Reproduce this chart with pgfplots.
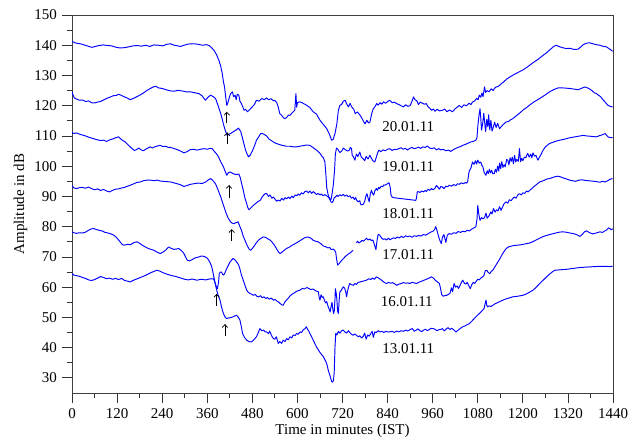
\documentclass[border=0pt]{standalone}
\usepackage{fontspec}
\setmainfont{Liberation Serif}
\usepackage{pgfplots}
\pgfplotsset{compat=1.18}
\usetikzlibrary{arrows.meta}

\begin{document}
\fontsize{15bp}{18bp}\selectfont
\begin{tikzpicture}
\useasboundingbox (-72bp,-48bp) rectangle (564bp,393bp);
\begin{axis}[
  scale only axis, width=541bp, height=378bp,
  xmin=0, xmax=1440, ymin=25, ymax=150,
  xtick={0,120,...,1440}, ytick={30,40,...,150},
  minor x tick num=1, minor y tick num=1,
  tick align=outside, xtick pos=bottom, ytick pos=left,
  major tick length=10bp, minor tick length=5bp,
  axis line style={black!75, line width=0.9bp},
  every tick/.append style={black!80, line width=0.8bp},
  /pgf/number format/assume math mode=true,
  /pgf/number format/1000 sep={},
  xlabel={Time in minutes (IST)}, ylabel={Amplitude in dB},
  xlabel style={at={(axis description cs:0.5,-0.1)}, anchor=center},
  ylabel style={at={(axis description cs:-0.095,0.5)}, anchor=center},
  unbounded coords=jump,
  trace/.style={blue, line width=0.95bp, line join=round, mark=none},
]
% 20.01.11
\addplot[trace] coordinates {(0,141.3) (8,140.8) (16,140.6) (25,140.4) (35,140.0) (45,139.6) (53,139.3) (62,139.6) (72,139.9) (84,140.1) (95,139.9) (105,139.8) (118,139.3) (128,139.1) (140,139.2) (152,139.5) (163,139.8) (173,139.9) (185,139.7) (196,140.0) (207,139.6) (218,140.1) (230,140.0) (242,139.8) (252,140.3) (262,140.5) (272,140.0) (281,139.8) (289,139.6) (298,140.0) (310,140.4) (324,140.5) (336,140.3) (348,140.0) (358,140.2) (366,139.8) (373,139.0) (378,138.3) (385,136.8) (391,135.0) (396,133.0) (400,130.6) (403,128.0) (406,126.2) (409,123.0) (412,120.1) (415,121.0) (418,122.4) (422,124.0) (427,124.6) (430,123.0) (434,123.5) (437,122.0) (440,123.8) (444,123.5) (447,121.5) (451,120.7) (455,119.5) (458,118.5) (462,118.8) (467,118.0) (472,118.6) (478,119.4) (485,120.3) (491,121.8) (498,121.5) (505,122.4) (512,122.0) (518,122.6) (523,122.0) (530,122.3) (536,121.6) (540,121.8) (545,121.0) (549,119.5) (553,117.4) (558,116.8) (563,116.0) (567,115.7) (572,116.2) (576,116.9) (580,116.8) (585,117.5) (589,118.0) (593,118.5) (596,124.0) (598,119.5) (600,121.0) (606,121.3) (612,121.0) (618,120.6) (624,120.2) (633,119.4) (642,118.0) (651,117.2) (660,115.2) (669,113.8) (678,112.4) (685,110.6) (691,108.6) (695,108.8) (700,110.8) (705,114.0) (709,118.5) (713,120.1) (718,120.5) (722,121.5) (727,121.8) (731,120.6) (736,119.6) (740,120.8) (745,119.5) (750,118.8) (754,117.4) (760,117.9) (767,116.8) (772,115.8) (776,114.8) (780,114.0) (785,115.2) (789,114.3) (793,114.6) (798,117.5) (802,119.0) (806,119.6) (811,120.7) (815,120.2) (820,121.0) (825,120.5) (829,121.3) (835,120.8) (840,121.4) (846,121.8) (852,121.0) (858,121.2) (864,120.7) (870,120.4) (876,120.0) (882,119.6) (888,120.3) (894,119.8) (900,120.0) (905,121.5) (909,122.9) (913,122.0) (918,121.6) (922,120.4) (927,121.2) (933,120.8) (938,120.5) (943,120.7) (948,119.6) (952,119.2) (957,118.5) (962,118.9) (966,118.2) (972,118.8) (978,118.3) (986,118.5) (992,118.9) (998,118.0) (1005,118.6) (1013,118.0) (1020,119.0) (1026,119.6) (1031,120.1) (1037,119.4) (1043,120.3) (1050,120.0) (1057,120.8) (1062,120.4) (1066,121.2) (1072,121.6) (1077,122.4) (1081,122.0) (1084,123.5) (1088,122.8) (1091,124.2) (1094,123.0) (1098,126.2) (1101,124.4) (1105,125.0) (1110,124.6) (1116,125.6) (1121,125.0) (1125,125.8) (1129,126.2) (1135,126.4) (1142,127.2) (1150,128.0) (1157,128.8) (1164,129.4) (1175,130.2) (1187,131.0) (1200,131.8) (1212,132.8) (1227,134.2) (1240,135.3) (1252,136.5) (1263,137.5) (1273,138.6) (1282,139.6) (1289,140.0) (1296,139.6) (1305,139.2) (1316,138.9) (1326,139.0) (1336,138.6) (1347,138.7) (1354,139.4) (1361,140.2) (1370,140.7) (1378,140.8) (1386,140.5) (1395,140.2) (1405,140.0) (1415,139.6) (1422,139.5) (1428,139.0) (1434,138.5) (1439,138.0)};
% 19.01.11
\addplot[trace] coordinates {(0,124.6) (3,123.5) (6,122.6) (12,122.2) (20,121.8) (28,121.9) (36,121.4) (44,121.6) (52,121.0) (60,120.9) (68,121.2) (76,121.4) (84,121.9) (92,122.4) (102,122.9) (110,123.3) (118,123.4) (124,123.8) (130,123.5) (138,123.0) (146,122.6) (155,122.0) (163,122.4) (173,123.0) (182,123.6) (190,124.2) (200,125.1) (210,125.8) (218,126.3) (224,126.4) (230,125.9) (240,125.7) (250,125.3) (262,124.9) (272,124.8) (282,125.1) (292,124.9) (304,124.6) (315,124.6) (326,124.3) (338,124.0) (346,123.3) (355,121.8) (362,122.8) (369,123.5) (376,123.0) (382,122.4) (389,120.0) (396,117.4) (400,115.5) (404,113.5) (408,111.8) (413,110.2) (418,110.6) (422,110.8) (428,111.3) (436,111.9) (443,112.6) (449,111.5) (453,109.7) (458,107.2) (462,105.3) (466,104.0) (470,103.1) (474,103.6) (480,105.0) (486,106.8) (491,108.6) (497,109.7) (502,110.8) (507,110.8) (513,110.4) (518,110.0) (524,109.0) (530,108.5) (536,108.0) (542,107.6) (549,107.3) (556,107.0) (563,106.8) (571,106.6) (580,106.6) (590,106.4) (598,106.4) (606,106.6) (615,106.8) (624,107.0) (633,106.9) (641,106.2) (651,105.3) (659,104.4) (666,103.2) (669,102.8) (673,101.5) (676,97.0) (678,93.0) (681,91.0) (684,89.5) (687,88.8) (690,89.2) (693,91.5) (696,94.3) (699,99.0) (701,104.0) (704,106.0) (708,105.5) (713,104.5) (718,105.0) (722,106.0) (727,105.5) (733,105.0) (738,105.3) (741,106.2) (744,105.8) (746,103.5) (749,103.2) (753,102.0) (757,104.0) (761,103.2) (766,104.7) (770,103.0) (775,102.5) (779,101.8) (783,103.2) (788,102.4) (793,103.6) (797,102.6) (801,101.8) (806,101.4) (810,103.0) (814,104.6) (817,105.3) (822,104.8) (828,105.4) (834,105.1) (840,105.6) (846,105.8) (852,105.2) (858,105.6) (864,105.5) (870,105.8) (876,106.1) (881,105.6) (887,105.9) (893,105.4) (899,105.9) (905,106.2) (911,105.8) (917,106.0) (922,106.3) (928,105.9) (934,106.4) (940,106.2) (946,106.7) (952,106.0) (958,105.8) (964,106.1) (970,105.4) (976,105.8) (982,105.4) (988,105.6) (995,105.1) (1002,105.3) (1008,104.9) (1013,105.3) (1020,105.8) (1027,106.2) (1034,106.5) (1040,106.9) (1047,107.2) (1054,107.6) (1061,108.0) (1068,108.2) (1075,108.6) (1078,109.5) (1080,113.0) (1083,116.5) (1086,119.0) (1088,116.0) (1090,111.9) (1093,114.0) (1096,117.5) (1098,115.0) (1101,111.5) (1104,115.5) (1107,113.0) (1109,117.0) (1112,112.0) (1115,115.2) (1118,111.6) (1120,112.3) (1125,114.5) (1129,112.8) (1133,114.2) (1138,112.4) (1142,113.0) (1148,113.8) (1155,114.6) (1162,114.8) (1168,115.4) (1173,115.7) (1182,116.6) (1191,117.5) (1200,118.5) (1210,119.4) (1220,120.4) (1230,121.3) (1240,122.0) (1250,122.8) (1260,123.6) (1271,124.6) (1282,125.3) (1294,125.9) (1305,125.9) (1316,125.8) (1325,125.7) (1336,125.5) (1347,125.3) (1355,125.7) (1365,126.2) (1374,125.8) (1383,125.1) (1390,124.3) (1396,124.0) (1401,123.5) (1407,123.0) (1413,122.0) (1419,121.2) (1426,120.2) (1432,119.8) (1439,119.6)};
% 18.01.11
\addplot[trace] coordinates {(0,111.2) (5,110.8) (12,111.0) (20,110.6) (28,110.3) (36,110.0) (44,109.6) (52,109.3) (60,109.0) (68,108.7) (76,108.5) (84,108.6) (92,108.2) (100,108.7) (108,109.0) (116,109.4) (124,109.7) (130,109.0) (136,108.4) (142,108.0) (148,107.2) (154,106.5) (160,105.8) (166,105.2) (172,105.5) (178,106.0) (184,105.4) (190,105.1) (196,105.6) (202,106.0) (208,106.4) (214,106.0) (220,106.4) (228,106.7) (235,106.9) (242,106.5) (250,106.6) (256,106.2) (262,106.2) (270,105.9) (280,105.5) (289,105.0) (298,104.4) (306,104.8) (315,105.5) (324,105.6) (333,105.3) (342,105.6) (352,105.8) (360,105.6) (368,105.9) (373,105.8) (378,105.0) (384,104.2) (390,103.1) (396,101.4) (403,99.8) (408,98.2) (412,97.0) (416,97.8) (421,98.1) (428,97.6) (434,97.3) (439,97.3) (444,97.4) (448,96.2) (452,94.0) (456,92.0) (460,89.6) (465,87.6) (468,86.3) (471,85.6) (476,86.2) (483,87.1) (490,87.8) (496,88.4) (501,88.7) (506,89.8) (510,90.4) (514,90.9) (518,91.0) (523,90.0) (527,90.5) (532,89.4) (536,89.8) (541,89.0) (545,88.4) (549,88.8) (554,88.5) (558,89.4) (563,88.8) (567,89.6) (571,89.2) (576,89.8) (580,89.3) (585,90.1) (589,89.6) (594,90.5) (598,90.2) (602,90.8) (606,90.4) (611,91.2) (615,90.8) (620,91.6) (624,91.8) (629,91.2) (633,91.8) (638,91.0) (642,91.6) (646,91.2) (651,90.6) (655,91.0) (660,90.5) (664,90.8) (668,90.2) (673,90.6) (678,90.2) (682,89.8) (686,89.6) (689,88.2) (692,88.0) (695,88.4) (698,89.6) (701,89.8) (705,90.4) (708,90.0) (713,90.6) (717,90.2) (722,90.7) (726,90.1) (731,90.5) (735,89.9) (740,90.2) (744,89.4) (748,89.8) (752,89.0) (755,89.6) (758,88.7) (762,88.2) (766,88.6) (768,87.5) (771,87.2) (775,87.4) (779,88.3) (782,90.0) (785,90.9) (788,89.5) (791,88.2) (794,90.8) (797,92.0) (800,91.0) (803,90.4) (806,91.8) (810,92.6) (813,92.0) (816,93.0) (819,92.6) (823,93.4) (827,93.2) (830,93.8) (833,93.7) (837,94.0) (841,94.3) (844,94.5) (847,93.0) (849,90.5) (852,89.8) (856,89.6) (862,89.5) (868,89.4) (875,89.3) (882,89.2) (888,89.1) (895,89.0) (902,88.9) (909,88.8) (915,88.7) (917,89.5) (919,91.5) (922,91.6) (926,91.3) (931,91.8) (936,91.5) (940,92.0) (943,91.6) (948,92.4) (952,92.0) (957,92.6) (961,92.2) (966,92.7) (970,93.6) (974,93.1) (978,92.4) (982,93.3) (986,93.1) (990,92.6) (995,93.4) (1000,93.2) (1004,93.7) (1010,93.4) (1016,93.9) (1022,93.6) (1026,94.2) (1031,94.0) (1036,94.5) (1042,94.2) (1047,94.6) (1050,94.4) (1053,94.8) (1056,97.5) (1058,98.6) (1062,99.4) (1066,101.4) (1070,100.6) (1074,101.8) (1077,100.7) (1080,102.0) (1084,101.0) (1088,101.4) (1091,100.3) (1094,99.6) (1097,98.0) (1100,97.3) (1102,97.0) (1105,98.5) (1108,97.6) (1111,99.0) (1114,97.8) (1117,98.6) (1120,97.5) (1124,97.6) (1127,99.0) (1130,98.0) (1133,100.0) (1136,98.4) (1138,101.0) (1141,99.2) (1144,101.5) (1147,99.6) (1150,100.5) (1153,99.8) (1157,102.2) (1160,102.0) (1163,100.4) (1166,102.8) (1169,101.6) (1172,103.0) (1175,100.8) (1178,103.6) (1181,101.4) (1184,102.3) (1188,101.6) (1191,105.8) (1194,101.5) (1197,102.6) (1200,101.8) (1204,103.0) (1208,102.8) (1211,103.8) (1213,104.2) (1217,103.0) (1221,104.0) (1224,102.8) (1227,104.4) (1231,103.3) (1235,103.6) (1238,102.6) (1240,102.0) (1244,102.9) (1248,103.8) (1254,105.3) (1260,106.4) (1266,107.0) (1271,107.5) (1280,107.9) (1289,108.3) (1298,108.6) (1307,108.8) (1316,109.1) (1325,109.4) (1334,109.6) (1343,109.8) (1352,110.0) (1361,110.2) (1370,110.0) (1380,109.9) (1388,109.8) (1396,109.7) (1404,110.1) (1412,110.4) (1419,110.8) (1423,110.2) (1428,109.6) (1433,109.5) (1439,109.4)};
% 17.01.11 (short gap in the record near 750 min)
\addplot[trace] coordinates {(0,93.6) (5,92.8) (12,92.6) (20,92.9) (28,93.0) (36,92.7) (44,93.1) (52,92.6) (60,92.2) (68,92.5) (76,92.0) (84,92.3) (92,91.8) (100,91.5) (108,92.0) (116,92.4) (124,92.5) (132,92.8) (140,93.0) (148,93.4) (155,93.7) (163,94.1) (172,94.6) (182,94.8) (190,95.2) (200,95.4) (209,95.4) (218,95.2) (226,95.4) (235,95.1) (244,95.0) (253,94.9) (262,94.8) (271,94.5) (280,94.2) (290,93.8) (298,93.3) (306,93.6) (315,94.0) (324,94.2) (335,94.4) (347,94.3) (356,94.8) (363,95.5) (369,95.9) (374,95.4) (378,94.8) (382,94.2) (388,92.4) (396,89.8) (402,87.5) (409,84.9) (415,83.0) (422,81.6) (426,81.2) (431,81.0) (436,81.3) (442,81.6) (447,80.0) (451,78.8) (456,76.8) (462,75.0) (467,73.6) (472,72.5) (476,72.2) (480,72.8) (485,73.6) (489,74.4) (496,75.5) (502,76.1) (509,76.6) (515,76.5) (521,76.0) (527,75.6) (532,75.0) (538,74.0) (545,72.6) (550,71.6) (554,71.1) (559,71.6) (565,72.2) (571,72.8) (578,73.2) (585,73.8) (594,74.4) (602,75.0) (610,75.6) (620,76.4) (628,76.6) (636,76.2) (642,75.5) (648,75.2) (655,75.0) (662,74.4) (669,73.6) (675,73.4) (681,73.0) (686,73.1) (690,72.4) (695,72.6) (699,72.2) (702,71.5) (704,69.5) (707,67.3) (711,67.8) (716,68.6) (722,69.4) (728,70.2) (734,70.8) (741,71.4) (748,72.2) (752,nan) (757,74.6) (760,75.2) (764,74.6) (768,75.0) (772,75.5) (776,75.2) (781,75.8) (784,76.2) (788,75.6) (793,75.9) (797,75.4) (801,75.6) (805,74.0) (809,72.4) (812,75.5) (815,77.5) (819,77.2) (823,76.4) (828,75.8) (833,76.0) (837,75.6) (842,76.2) (846,75.7) (851,76.0) (856,76.3) (861,76.1) (866,76.6) (871,76.3) (877,76.8) (882,76.4) (888,77.0) (893,76.7) (899,76.9) (905,76.5) (911,77.0) (917,76.8) (923,77.1) (929,76.9) (935,77.4) (941,77.2) (947,77.6) (952,78.0) (957,78.3) (961,78.5) (965,79.0) (968,80.0) (970,79.4) (973,78.0) (977,76.2) (980,75.2) (983,74.4) (986,76.5) (990,77.4) (995,74.8) (999,77.2) (1004,77.7) (1010,77.5) (1016,78.0) (1022,77.8) (1028,78.4) (1034,78.1) (1040,78.5) (1046,78.3) (1052,78.8) (1058,78.6) (1064,79.2) (1070,79.6) (1075,80.0) (1078,82.5) (1080,87.0) (1083,84.0) (1086,82.1) (1090,83.0) (1094,82.6) (1098,83.0) (1102,84.5) (1105,82.8) (1110,83.6) (1115,84.9) (1118,84.2) (1122,86.0) (1126,84.8) (1130,85.6) (1134,85.2) (1138,86.6) (1142,85.4) (1146,86.5) (1150,87.6) (1155,88.2) (1160,87.8) (1164,88.9) (1169,88.6) (1173,89.3) (1178,89.8) (1182,89.4) (1186,90.4) (1191,90.9) (1196,90.5) (1200,91.2) (1205,91.0) (1210,91.8) (1214,91.5) (1218,92.0) (1224,92.6) (1230,93.3) (1236,93.9) (1241,94.4) (1245,94.8) (1250,95.0) (1258,95.4) (1265,95.8) (1271,95.9) (1280,96.3) (1288,96.6) (1294,96.7) (1302,96.4) (1310,96.0) (1316,95.8) (1324,95.4) (1332,95.2) (1340,95.0) (1350,95.4) (1358,95.5) (1366,95.3) (1374,95.2) (1382,95.1) (1390,95.0) (1396,94.9) (1405,94.7) (1412,95.0) (1419,94.8) (1426,95.2) (1432,95.7) (1439,95.9)};
% 16.01.11
\addplot[trace] coordinates {(0,64.5) (5,64.0) (12,63.8) (20,63.6) (28,63.2) (36,62.9) (44,62.4) (52,62.2) (60,62.5) (68,63.0) (76,63.5) (84,63.2) (92,62.8) (100,63.0) (108,62.6) (116,62.9) (124,62.5) (132,62.9) (140,62.2) (148,62.0) (155,61.7) (162,62.2) (170,62.6) (178,63.0) (186,63.4) (194,63.8) (202,64.3) (210,64.8) (218,65.2) (226,65.6) (234,65.3) (242,64.8) (250,64.4) (258,64.1) (266,63.8) (274,63.6) (282,63.3) (290,63.0) (300,62.6) (310,62.4) (320,62.7) (332,62.3) (344,62.6) (356,62.4) (366,62.7) (376,62.8) (380,61.8) (383,60.6) (387,59.5) (390,61.5) (392,64.5) (395,65.0) (398,65.0) (401,64.2) (404,64.0) (408,65.0) (412,66.2) (416,67.2) (420,68.2) (425,69.0) (429,69.5) (434,69.0) (439,68.2) (443,67.5) (447,66.0) (451,64.0) (456,62.3) (461,60.4) (465,59.0) (469,58.3) (474,57.9) (479,57.6) (483,57.3) (488,57.6) (492,57.0) (497,56.8) (502,57.2) (506,56.5) (511,56.8) (516,56.2) (520,56.6) (525,56.0) (530,56.4) (536,55.7) (541,55.9) (545,55.4) (550,55.1) (554,54.6) (558,54.2) (562,54.0) (566,55.0) (571,55.7) (576,56.4) (581,57.2) (585,57.6) (589,57.9) (595,58.4) (601,58.8) (607,59.0) (613,59.6) (619,59.4) (625,59.9) (631,59.5) (636,59.2) (642,59.4) (648,58.8) (653,58.6) (656,58.4) (658,56.5) (660,55.7) (663,57.5) (666,56.6) (669,56.8) (672,55.6) (675,54.8) (678,55.2) (682,53.5) (685,52.6) (687,51.8) (690,53.8) (692,55.0) (694,53.0) (696,51.3) (698,52.0) (700,56.0) (701,59.5) (703,58.2) (705,56.0) (707,52.0) (709,51.3) (711,55.5) (713,58.4) (717,59.0) (722,60.1) (726,59.6) (729,58.2) (731,56.8) (733,58.5) (735,59.5) (739,61.2) (744,60.8) (749,60.6) (753,61.2) (757,60.9) (762,61.6) (767,61.7) (772,61.9) (778,62.1) (784,62.3) (790,62.8) (795,62.5) (800,63.0) (805,62.6) (810,63.4) (816,63.0) (821,62.6) (827,62.0) (832,61.5) (837,61.2) (843,61.6) (848,61.3) (853,61.5) (859,61.1) (864,60.6) (870,61.0) (876,61.2) (882,61.5) (888,61.3) (894,61.4) (899,61.2) (905,61.6) (911,61.4) (917,61.2) (923,61.6) (929,61.9) (935,62.2) (941,62.5) (947,62.8) (952,63.1) (957,63.4) (962,63.0) (966,62.4) (970,62.0) (974,61.6) (978,61.2) (981,59.5) (984,57.5) (988,57.0) (992,57.2) (997,57.3) (1002,57.6) (1006,58.0) (1010,59.8) (1013,58.5) (1017,61.2) (1021,60.0) (1025,60.4) (1029,59.6) (1033,60.6) (1037,61.7) (1040,62.3) (1044,61.4) (1048,61.0) (1052,61.6) (1056,60.5) (1060,59.5) (1064,60.8) (1068,61.6) (1072,61.2) (1076,62.0) (1080,62.6) (1084,62.4) (1088,63.0) (1093,63.4) (1097,64.0) (1100,65.4) (1104,65.6) (1108,64.8) (1112,64.5) (1116,65.2) (1120,65.6) (1126,66.8) (1132,68.0) (1138,69.2) (1144,70.6) (1150,71.8) (1156,72.8) (1163,73.4) (1170,73.6) (1178,73.8) (1186,73.9) (1194,74.0) (1202,74.2) (1210,74.4) (1218,74.6) (1226,75.0) (1234,75.5) (1242,76.0) (1250,76.5) (1258,76.9) (1266,77.2) (1274,77.5) (1282,77.7) (1290,78.0) (1298,78.2) (1306,78.3) (1314,78.2) (1322,78.0) (1330,77.8) (1338,77.6) (1346,77.2) (1352,76.8) (1358,77.4) (1364,78.3) (1370,78.6) (1375,78.2) (1380,77.9) (1386,77.6) (1392,77.8) (1398,78.0) (1405,78.3) (1412,78.1) (1418,78.6) (1423,78.9) (1428,79.6) (1432,79.3) (1436,79.0) (1439,79.3)};
% 13.01.11
\addplot[trace] coordinates {(0,78.3) (5,78.0) (12,77.8) (20,78.0) (28,77.9) (36,78.2) (44,78.8) (50,79.2) (57,79.4) (64,79.1) (72,78.8) (80,78.6) (88,78.1) (96,77.9) (104,77.6) (111,77.2) (118,76.5) (124,75.6) (128,75.0) (133,74.2) (137,73.9) (143,74.0) (150,74.2) (156,74.0) (160,74.4) (166,74.8) (173,75.0) (180,74.5) (188,73.8) (195,73.3) (203,72.8) (210,72.5) (218,72.2) (226,71.6) (235,71.1) (242,71.6) (249,72.2) (254,72.9) (258,73.3) (264,72.8) (271,72.5) (278,72.6) (284,72.8) (290,72.2) (295,71.6) (298,71.1) (303,69.8) (307,68.9) (313,68.7) (320,69.1) (326,69.6) (332,69.8) (338,70.0) (344,70.3) (351,70.2) (356,69.9) (360,69.6) (364,68.9) (368,68.0) (372,66.7) (376,64.4) (381,61.2) (386,58.6) (390,57.0) (394,55.7) (398,53.4) (403,51.3) (408,50.0) (412,49.6) (416,49.8) (421,49.9) (427,50.1) (432,50.4) (438,50.7) (443,50.0) (447,49.1) (451,46.8) (454,44.7) (459,43.4) (465,42.5) (471,42.0) (478,41.9) (484,42.6) (491,43.6) (496,45.0) (500,46.3) (505,45.6) (510,45.8) (514,45.2) (518,45.2) (523,44.6) (526,45.5) (531,44.0) (536,43.0) (540,42.8) (544,43.6) (549,41.4) (553,42.0) (558,41.4) (562,42.5) (567,42.0) (571,43.0) (576,42.6) (580,43.6) (585,43.2) (589,44.2) (594,44.0) (598,44.7) (602,44.4) (607,45.2) (611,45.0) (615,45.8) (620,46.3) (624,46.9) (627,46.0) (630,45.6) (633,44.7) (637,43.8) (642,42.5) (647,41.2) (651,40.2) (656,39.2) (660,38.4) (664,37.8) (669,37.0) (673,36.0) (677,35.0) (680,33.8) (682,32.5) (685,31.4) (688,30.2) (691,28.8) (694,28.6) (696,29.2) (698,32.0) (700,40.0) (702,44.7) (705,44.2) (709,45.4) (713,44.8) (718,45.6) (722,45.8) (726,45.2) (731,44.8) (736,45.6) (740,44.9) (744,44.4) (748,44.1) (752,44.5) (757,44.1) (762,43.6) (766,43.9) (771,43.2) (775,43.7) (779,44.8) (783,42.8) (787,44.2) (791,43.8) (795,44.6) (799,45.4) (802,43.4) (806,45.2) (810,45.0) (815,45.6) (820,45.2) (825,45.4) (830,45.0) (835,45.4) (840,45.2) (846,45.2) (852,45.4) (858,45.0) (864,45.5) (870,45.2) (876,45.6) (882,45.4) (888,45.8) (894,45.5) (900,46.0) (906,46.3) (911,45.4) (916,45.8) (921,46.2) (926,45.6) (931,45.3) (936,45.8) (941,46.1) (946,45.6) (951,46.0) (956,46.4) (961,46.3) (966,46.1) (971,45.6) (976,45.9) (981,46.0) (986,46.3) (991,45.5) (996,46.2) (1001,46.6) (1006,46.0) (1011,46.4) (1016,45.9) (1022,45.2) (1028,45.8) (1034,46.4) (1040,46.9) (1046,47.2) (1052,47.6) (1057,47.9) (1063,48.6) (1069,49.4) (1075,50.2) (1081,50.9) (1087,51.6) (1093,52.4) (1097,53.0) (1100,54.8) (1102,55.7) (1104,54.0) (1106,53.5) (1110,53.8) (1115,53.6) (1120,54.0) (1126,54.5) (1133,54.9) (1140,55.3) (1147,55.7) (1155,56.1) (1163,56.4) (1173,56.8) (1186,57.0) (1200,57.3) (1210,57.8) (1220,58.5) (1227,59.0) (1235,59.9) (1245,61.2) (1254,62.3) (1263,63.4) (1272,64.4) (1279,65.1) (1285,65.6) (1295,65.7) (1305,65.8) (1316,65.9) (1328,66.1) (1340,66.3) (1352,66.5) (1365,66.6) (1378,66.7) (1392,66.8) (1405,66.9) (1420,66.9) (1430,66.8) (1439,66.9)};

% day labels
\node at (axis cs:895,113.2) {20.01.11};
\node at (axis cs:895,99.8) {19.01.11};
\node at (axis cs:895,84.3) {18.01.11};
\node at (axis cs:895,70.6) {17.01.11};
\node at (axis cs:891,55.1) {16.01.11};
\node at (axis cs:895,39.7) {13.01.11};

% arrows marking the onset of each event
\begin{scope}[black, line width=0.7bp, -{Straight Barb[length=3bp,width=5.5bp]}]
\draw (axis cs:412,114.2) -- (axis cs:412,118.0);
\draw (axis cs:413,107.4) -- (axis cs:413,111.2);
\draw (axis cs:418,89.6) -- (axis cs:418,93.8);
\draw (axis cs:425,75.2) -- (axis cs:425,79.2);
\draw (axis cs:385,53.8) -- (axis cs:385,57.8);
\draw (axis cs:407,43.8) -- (axis cs:407,47.8);
\end{scope}
\end{axis}
\end{tikzpicture}
\end{document}
